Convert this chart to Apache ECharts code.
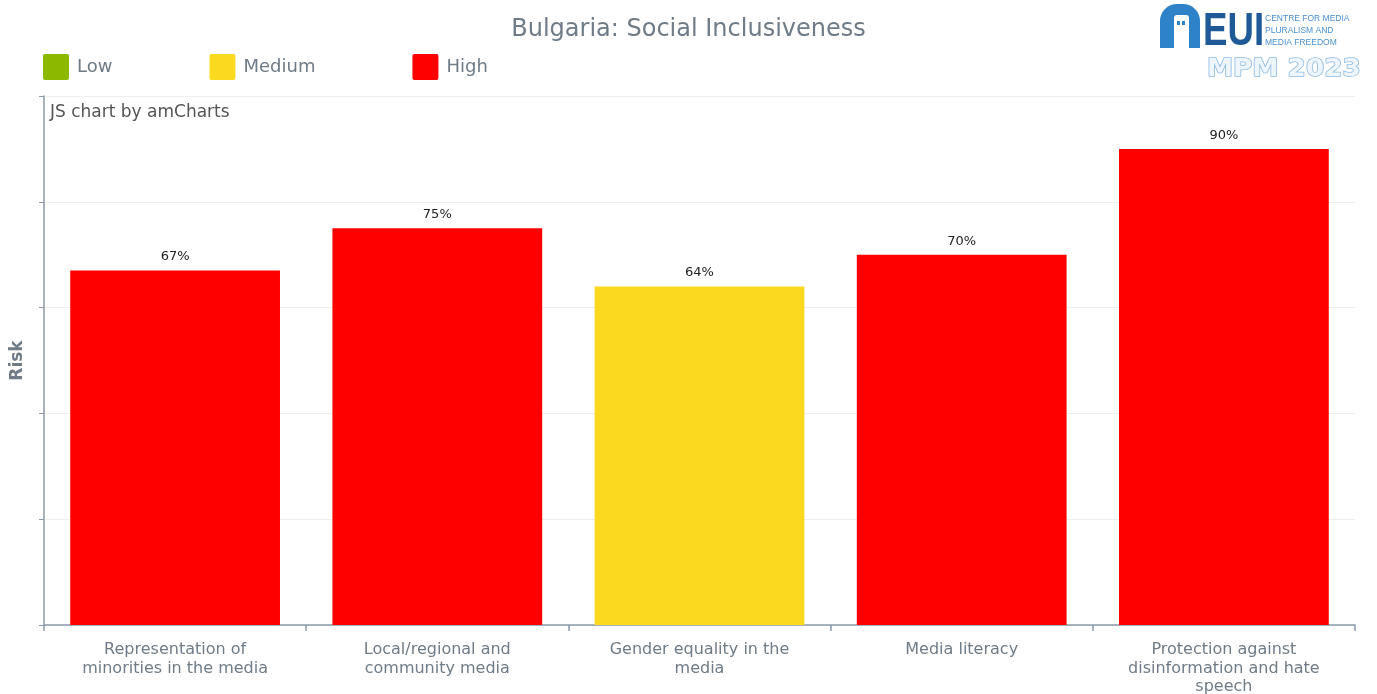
<!DOCTYPE html>
<html>
<head>
<meta charset="utf-8">
<title>Bulgaria: Social Inclusiveness</title>
<script src="https://cdn.jsdelivr.net/npm/echarts@6/dist/echarts.min.js"></script>
<style>
  html, body { margin: 0; padding: 0; background: #ffffff; }
  #chart { width: 1377px; height: 694px; }
</style>
</head>
<body>
<div id="chart"></div>
<script>
// Indicator areas and their risk scores (%)
const categories = [
  'Representation of minorities in the media',
  'Local/regional and community media',
  'Gender equality in the media',
  'Media literacy',
  'Protection against disinformation and hate speech'
];
const scores = [67, 75, 64, 70, 90];
const riskLevels = ['High', 'High', 'Medium', 'High', 'High'];
const levelNames = ['Low', 'Medium', 'High'];
const levelColors = { Low: '#8cb800', Medium: '#fbd91e', High: '#ff0000' };

const textGrey = '#6f7b86';
const axisColor = '#8a9bab';
const FONT = '"DejaVu Sans", Verdana, sans-serif';
const LABEL_SIZE = 16;
const LABEL_WRAP = 205;

// Word-wrap a category name to the given pixel width
const measureCtx = document.createElement('canvas').getContext('2d');
measureCtx.font = LABEL_SIZE + 'px ' + FONT;
function wrapLabel(text) {
  const words = text.split(' ');
  const lines = [];
  let line = '';
  words.forEach(w => {
    const test = line ? line + ' ' + w : w;
    if (line && measureCtx.measureText(test).width > LABEL_WRAP) {
      lines.push(line);
      line = w;
    } else {
      line = test;
    }
  });
  if (line) lines.push(line);
  return lines.join('\n');
}

// One bar series per risk level, all overlapping in the same slot
const series = levelNames.map(level => ({
  name: level,
  type: 'bar',
  barWidth: '80%',
  barGap: '-100%',
  itemStyle: { color: levelColors[level] },
  label: {
    show: true,
    position: 'top',
    distance: 7,
    formatter: '{c}%',
    fontFamily: FONT,
    fontSize: 13,
    color: '#222222'
  },
  data: scores.map((v, i) => (riskLevels[i] === level ? v : '-'))
}));

const chart = echarts.init(document.getElementById('chart'), null, { renderer: 'canvas' });

chart.setOption({
  animation: false,
  backgroundColor: '#ffffff',
  title: {
    text: 'Bulgaria: Social Inclusiveness',
    left: 'center',
    top: 18,
    padding: 0,
    textStyle: { fontFamily: FONT, fontSize: 24, fontWeight: 'normal', color: textGrey }
  },
  legend: {
    data: levelNames,
    left: 43,
    top: 54,
    padding: 0,
    icon: 'path://M2,0 L24,0 Q26,0 26,2 L26,24 Q26,26 24,26 L2,26 Q0,26 0,24 L0,2 Q0,0 2,0 Z',
    itemWidth: 26,
    itemHeight: 26,
    itemGap: 97,
    textStyle: { fontFamily: FONT, fontSize: 18, color: textGrey, padding: [0, 0, 0, 3] }
  },
  grid: { left: 44, right: 22, top: 96, bottom: 69, containLabel: false, outerBoundsMode: 'none' },
  xAxis: {
    type: 'category',
    data: categories,
    axisLine: { lineStyle: { color: axisColor, width: 1.5 } },
    axisTick: { show: true, length: 6, lineStyle: { color: axisColor, width: 1.5 } },
    axisLabel: {
      interval: 0,
      margin: 16,
      lineHeight: 18.5,
      fontFamily: FONT,
      fontSize: LABEL_SIZE,
      color: textGrey,
      formatter: wrapLabel
    }
  },
  yAxis: {
    type: 'value',
    min: 0,
    max: 100,
    interval: 20,
    name: 'Risk',
    nameLocation: 'middle',
    nameGap: 18,
    nameTextStyle: { fontFamily: FONT, fontSize: 17, fontWeight: 'bold', color: textGrey },
    axisLine: { show: true, lineStyle: { color: axisColor, width: 1.5 } },
    axisTick: { show: true, length: 5, lineStyle: { color: axisColor } },
    axisLabel: { show: false },
    splitLine: { lineStyle: { color: '#eeeeee' } }
  },
  graphic: [
    {
      type: 'text',
      left: 50,
      top: 104,
      style: { text: 'JS chart by amCharts', fontFamily: FONT, fontSize: 17, fill: '#555555' }
    },
    // EUI logo: arch with a door and two small windows
    { type: 'rect', shape: { x: 1160, y: 4, width: 40, height: 44, r: [17, 17, 0, 0] }, style: { fill: '#2e82c8' } },
    { type: 'rect', shape: { x: 1174, y: 15, width: 15, height: 33, r: [3, 3, 0, 0] }, style: { fill: '#ffffff' } },
    { type: 'rect', shape: { x: 1177, y: 21, width: 3, height: 4 }, style: { fill: '#2e82c8' } },
    { type: 'rect', shape: { x: 1182, y: 21, width: 3, height: 4 }, style: { fill: '#2e82c8' } },
    {
      type: 'text',
      x: 1203,
      y: 9,
      scaleX: 0.78,
      style: { text: 'EUI', fontFamily: '"Liberation Sans", Arial, sans-serif', fontSize: 47, fontWeight: 'bold', fill: '#1f5a96' }
    },
    {
      type: 'text',
      x: 1265,
      y: 13,
      style: {
        text: 'CENTRE FOR MEDIA\nPLURALISM AND\nMEDIA FREEDOM',
        fontFamily: '"Liberation Sans", Arial, sans-serif',
        fontSize: 8.5,
        lineHeight: 12,
        fill: '#4a8fd0'
      }
    },
    {
      type: 'text',
      x: 1207,
      y: 57,
      scaleX: 1.05,
      style: {
        text: 'MPM 2023',
        fontFamily: '"DejaVu Sans", sans-serif',
        fontSize: 25,
        fontWeight: 'bold',
        fill: '#eef5fc',
        stroke: '#8dbbe3',
        lineWidth: 1.6
      }
    }
  ],
  series: series
});
</script>
</body>
</html>
